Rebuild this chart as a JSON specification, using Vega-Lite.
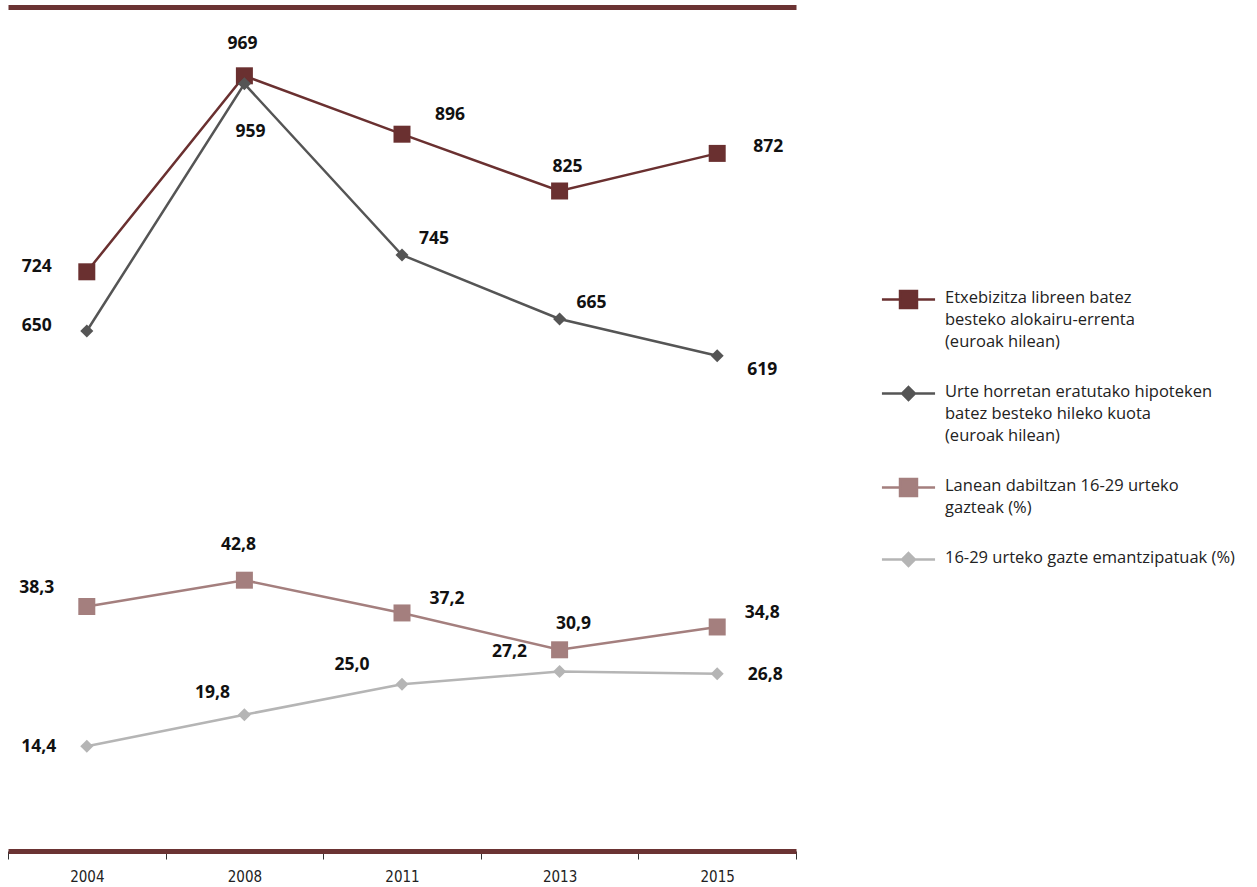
{
  "$schema": "https://vega.github.io/schema/vega-lite/v6.json",
  "width": 788,
  "height": 844,
  "autosize": {"type": "none"},
  "padding": {"left": 8, "top": 7, "right": 461, "bottom": 36},
  "background": "white",
  "config": {
    "view": {"stroke": null},
    "locale": {"number": {"decimal": ",", "thousands": ".", "grouping": [3], "currency": ["", " €"]}},
    "text": {"font": "Open Sans", "fontWeight": "bold", "fontSize": 17.5, "color": "#111", "align": "center", "baseline": "middle"}
  },
  "data": {
    "values": [
      {"year": "2004", "s": "a", "v": 724},
      {"year": "2008", "s": "a", "v": 969},
      {"year": "2011", "s": "a", "v": 896},
      {"year": "2013", "s": "a", "v": 825},
      {"year": "2015", "s": "a", "v": 872},
      {"year": "2004", "s": "b", "v": 650},
      {"year": "2008", "s": "b", "v": 959},
      {"year": "2011", "s": "b", "v": 745},
      {"year": "2013", "s": "b", "v": 665},
      {"year": "2015", "s": "b", "v": 619},
      {"year": "2004", "s": "c", "v": 38.3},
      {"year": "2008", "s": "c", "v": 42.8},
      {"year": "2011", "s": "c", "v": 37.2},
      {"year": "2013", "s": "c", "v": 30.9},
      {"year": "2015", "s": "c", "v": 34.8},
      {"year": "2004", "s": "d", "v": 14.4},
      {"year": "2008", "s": "d", "v": 19.8},
      {"year": "2011", "s": "d", "v": 25.0},
      {"year": "2013", "s": "d", "v": 27.2},
      {"year": "2015", "s": "d", "v": 26.8}
    ]
  },
  "encoding": {
    "color": {
      "field": "s",
      "type": "nominal",
      "scale": {"domain": ["a", "b", "c", "d"], "range": ["#6a3030", "#555555", "#a47f7e", "#b5b5b5"]},
      "legend": {
        "orient": "none",
        "legendX": 883,
        "legendY": 275,
        "title": null,
        "labelFont": "Open Sans",
        "labelFontSize": 16.5,
        "labelColor": "#222",
        "labelLimit": 0,
        "labelOffset": 19,
        "labelBaseline": "top",
        "rowPadding": 26,
        "symbolSize": 1024,
        "labelExpr": "datum.value=='a' ? ['Etxebizitza libreen batez','besteko alokairu-errenta','(euroak hilean)'] : datum.value=='b' ? ['Urte horretan eratutako hipoteken','batez besteko hileko kuota','(euroak hilean)'] : datum.value=='c' ? ['Lanean dabiltzan 16-29 urteko','gazteak (%)'] : ['16-29 urteko gazte emantzipatuak (%)']",
        "encode": {
          "symbols": {
            "update": {
              "shape": {"signal": "(datum.value=='a'||datum.value=='c') ? 'M-1.66,0H-0.53M0.53,0H1.66M-0.53,-0.53H0.53V0.53H-0.53Z' : 'M-1.66,0H-0.4M0.4,0H1.66M0,-0.4L0.4,0L0,0.4L-0.4,0Z'"},
              "fill": {"scale": "color", "field": "value"},
              "stroke": {"scale": "color", "field": "value"},
              "strokeWidth": {"value": 2.5},
              "opacity": {"value": 1},
              "size": {"value": 1024}
            }
          },
          "labels": {"update": {"lineHeight": {"value": 22}, "dy": {"value": -10}}}
        }
      }
    }
  },
  "layer": [
    {
      "transform": [{"filter": "datum.s=='a'||datum.s=='b'"}],
      "encoding": {
        "x": {
          "field": "year", "type": "ordinal",
          "scale": {"type": "band", "paddingInner": 0, "paddingOuter": 0},
          "axis": {"orient": "bottom", "title": null, "domainColor": "#6b3333", "domainWidth": 5, "domainCap": "butt", "tickColor": "#333", "tickSize": 8, "tickWidth": 1, "tickBand": "extent", "labelFont": "Liberation Sans Narrow, DejaVu Sans Condensed, Roboto", "labelFontSize": 15, "labelColor": "#222", "labelPadding": 10, "labelAngle": 0, "grid": false}
        },
        "y": {"field": "v", "type": "quantitative", "scale": {"domain": [0, 1055]}, "axis": null}
      },
      "layer": [
        {"mark": {"type": "line", "strokeWidth": 2.5}},
        {"transform": [{"filter": "datum.s=='a'"}], "mark": {"type": "point", "shape": "square", "filled": true, "size": 289, "opacity": 1}},
        {"transform": [{"filter": "datum.s=='b'"}], "mark": {"type": "point", "shape": "diamond", "filled": true, "size": 170, "opacity": 1}},
        {"transform": [{"filter": "datum.s=='a'&&datum.year=='2008'"}], "mark": {"type": "text", "dx": -2, "dy": -32}, "encoding": {"text": {"field": "v", "type": "quantitative", "format": ".0f"}, "color": {"value": "#111"}}},
        {"transform": [{"filter": "datum.year=='2004'"}], "mark": {"type": "text", "dx": -50, "dy": -5}, "encoding": {"text": {"field": "v", "type": "quantitative", "format": ".0f"}, "color": {"value": "#111"}}},
        {"transform": [{"filter": "datum.s=='a'&&datum.year=='2011'"}], "mark": {"type": "text", "dx": 48, "dy": -19}, "encoding": {"text": {"field": "v", "type": "quantitative", "format": ".0f"}, "color": {"value": "#111"}}},
        {"transform": [{"filter": "datum.s=='a'&&datum.year=='2013'"}], "mark": {"type": "text", "dx": 8, "dy": -24}, "encoding": {"text": {"field": "v", "type": "quantitative", "format": ".0f"}, "color": {"value": "#111"}}},
        {"transform": [{"filter": "datum.s=='a'&&datum.year=='2015'"}], "mark": {"type": "text", "dx": 51, "dy": -6}, "encoding": {"text": {"field": "v", "type": "quantitative", "format": ".0f"}, "color": {"value": "#111"}}},
        {"transform": [{"filter": "datum.s=='b'&&datum.year=='2008'"}], "mark": {"type": "text", "dx": 6, "dy": 48}, "encoding": {"text": {"field": "v", "type": "quantitative", "format": ".0f"}, "color": {"value": "#111"}}},
        {"transform": [{"filter": "datum.s=='b'&&(datum.year=='2011'||datum.year=='2013')"}], "mark": {"type": "text", "dx": 32, "dy": -16}, "encoding": {"text": {"field": "v", "type": "quantitative", "format": ".0f"}, "color": {"value": "#111"}}},
        {"transform": [{"filter": "datum.s=='b'&&datum.year=='2015'"}], "mark": {"type": "text", "dx": 45, "dy": 14}, "encoding": {"text": {"field": "v", "type": "quantitative", "format": ".0f"}, "color": {"value": "#111"}}}
      ]
    },
    {
      "transform": [{"filter": "datum.s=='c'||datum.s=='d'"}],
      "encoding": {
        "x": {
          "field": "year", "type": "ordinal",
          "scale": {"type": "band", "paddingInner": 0, "paddingOuter": 0},
          "axis": {"orient": "top", "title": null, "labels": false, "ticks": false, "domainColor": "#6b3333", "domainWidth": 5, "domainCap": "butt", "grid": false}
        },
        "y": {"field": "v", "type": "quantitative", "scale": {"domain": [-3.5, 140.8]}, "axis": null}
      },
      "layer": [
        {"mark": {"type": "line", "strokeWidth": 2.5}},
        {"transform": [{"filter": "datum.s=='c'"}], "mark": {"type": "point", "shape": "square", "filled": true, "size": 289, "opacity": 1}},
        {"transform": [{"filter": "datum.s=='d'"}], "mark": {"type": "point", "shape": "diamond", "filled": true, "size": 170, "opacity": 1}},
        {"transform": [{"filter": "(datum.s=='c'&&datum.year=='2004')||(datum.s=='d'&&(datum.year=='2011'||datum.year=='2013'))"}], "mark": {"type": "text", "dx": -50, "dy": -19}, "encoding": {"text": {"field": "v", "type": "quantitative", "format": ".1f"}, "color": {"value": "#111"}}},
        {"transform": [{"filter": "datum.s=='c'&&datum.year=='2008'"}], "mark": {"type": "text", "dx": -6, "dy": -35}, "encoding": {"text": {"field": "v", "type": "quantitative", "format": ".1f"}, "color": {"value": "#111"}}},
        {"transform": [{"filter": "datum.s=='c'&&(datum.year=='2011'||datum.year=='2015')"}], "mark": {"type": "text", "dx": 45, "dy": -14}, "encoding": {"text": {"field": "v", "type": "quantitative", "format": ".1f"}, "color": {"value": "#111"}}},
        {"transform": [{"filter": "datum.s=='c'&&datum.year=='2013'"}], "mark": {"type": "text", "dx": 14, "dy": -26}, "encoding": {"text": {"field": "v", "type": "quantitative", "format": ".1f"}, "color": {"value": "#111"}}},
        {"transform": [{"filter": "datum.s=='d'&&datum.year=='2004'"}], "mark": {"type": "text", "dx": -48, "dy": 1}, "encoding": {"text": {"field": "v", "type": "quantitative", "format": ".1f"}, "color": {"value": "#111"}}},
        {"transform": [{"filter": "datum.s=='d'&&datum.year=='2008'"}], "mark": {"type": "text", "dx": -32, "dy": -22}, "encoding": {"text": {"field": "v", "type": "quantitative", "format": ".1f"}, "color": {"value": "#111"}}},
        {"transform": [{"filter": "datum.s=='d'&&datum.year=='2015'"}], "mark": {"type": "text", "dx": 48, "dy": 1}, "encoding": {"text": {"field": "v", "type": "quantitative", "format": ".1f"}, "color": {"value": "#111"}}}
      ]
    }
  ],
  "resolve": {"scale": {"y": "independent"}, "axis": {"x": "independent"}}
}
